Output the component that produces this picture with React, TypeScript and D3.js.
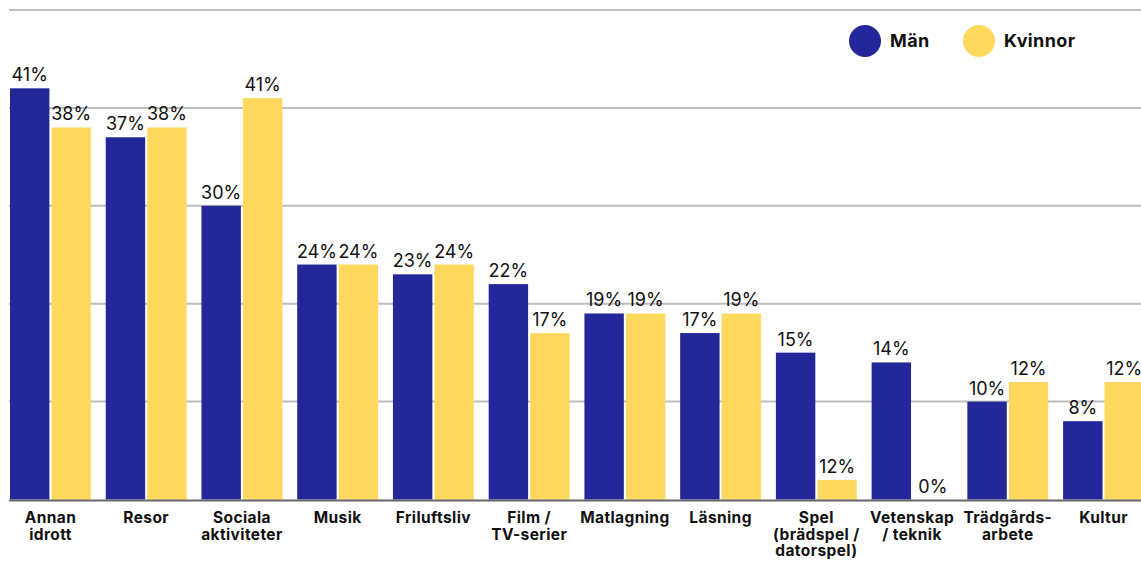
import React from "react";
import * as d3 from "d3";

const categories = [
  ["Annan", "idrott"],
  ["Resor"],
  ["Sociala", "aktiviteter"],
  ["Musik"],
  ["Friluftsliv"],
  ["Film /", "TV-serier"],
  ["Matlagning"],
  ["Läsning"],
  ["Spel", "(brädspel /", "datorspel)"],
  ["Vetenskap", "/ teknik"],
  ["Trädgårds-", "arbete"],
  ["Kultur"],
];
const man = [42, 37, 30, 24, 23, 22, 19, 17, 15, 14, 10, 8];
const kvinnor = [38, 38, 41, 24, 24, 17, 19, 19, 2, 0, 12, 12];
const manLabels = ["41%", "37%", "30%", "24%", "23%", "22%", "19%", "17%", "15%", "14%", "10%", "8%"];
const kvinnorLabels = ["38%", "38%", "41%", "24%", "24%", "17%", "19%", "19%", "12%", "0%", "12%", "12%"];
const gridTicks = [10, 20, 30, 40, 50];

const W = 1141;
const H = 561;
const BLUE = "#23279a";
const YELLOW = "#fed95e";
const FONT = "Inter, 'Noto Sans', sans-serif";

export default function App() {
  const x = d3
    .scaleBand<number>()
    .domain(d3.range(categories.length))
    .range([10, 1144])
    .paddingInner(0.155)
    .paddingOuter(0);
  const sub = d3.scaleBand<string>().domain(["m", "k"]).range([0, x.bandwidth()]).paddingInner(0.05);
  const y = d3.scaleLinear().domain([0, 50]).range([499.5, 10]);

  const series = [
    { key: "m", vals: man, labels: manLabels, color: BLUE },
    { key: "k", vals: kvinnor, labels: kvinnorLabels, color: YELLOW },
  ];

  return (
    <div style={{ position: "absolute", left: 0, top: 0 }}>
      <svg width={W} height={H} style={{ display: "block", fontFamily: FONT }}>
        <rect width={W} height={H} fill="#fff" />
        {gridTicks.map((t) => (
          <line key={t} x1={9} x2={W} y1={y(t)} y2={y(t)} stroke="#bdbdbd" strokeWidth={2} />
        ))}
        {series.map((s) =>
          s.vals.map((v, i) => {
            const bx = (x(i) as number) + (sub(s.key) as number);
            return (
              <g key={s.key + i}>
                {v > 0 && (
                  <rect x={bx} y={y(v)} width={sub.bandwidth()} height={y(0) - y(v)} fill={s.color} />
                )}
                <text
                  x={bx + sub.bandwidth() / 2}
                  y={y(v) - 7}
                  textAnchor="middle"
                  fontSize={18}
                  fill="#111"
                >
                  {s.labels[i]}
                </text>
              </g>
            );
          })
        )}
        <line x1={9} x2={W} y1={y(0) + 1} y2={y(0) + 1} stroke="#666" strokeWidth={2} />
        {categories.map((lines, i) => (
          <text
            key={i}
            x={(x(i) as number) + x.bandwidth() / 2}
            y={523}
            textAnchor="middle"
            fontSize={15.5}
            fontWeight={700}
            letterSpacing={0.4}
            fill="#111"
          >
            {lines.map((l, j) => (
              <tspan key={j} x={(x(i) as number) + x.bandwidth() / 2} dy={j === 0 ? 0 : 16.5}>
                {l}
              </tspan>
            ))}
          </text>
        ))}
        <circle cx={865} cy={41} r={16} fill={BLUE} />
        <text x={890} y={47} fontSize={18} fontWeight={700} letterSpacing={0.4} fill="#111">Män</text>
        <circle cx={979} cy={41} r={16} fill={YELLOW} />
        <text x={1004} y={47} fontSize={18} fontWeight={700} letterSpacing={0.4} fill="#111">Kvinnor</text>
      </svg>
    </div>
  );
}
